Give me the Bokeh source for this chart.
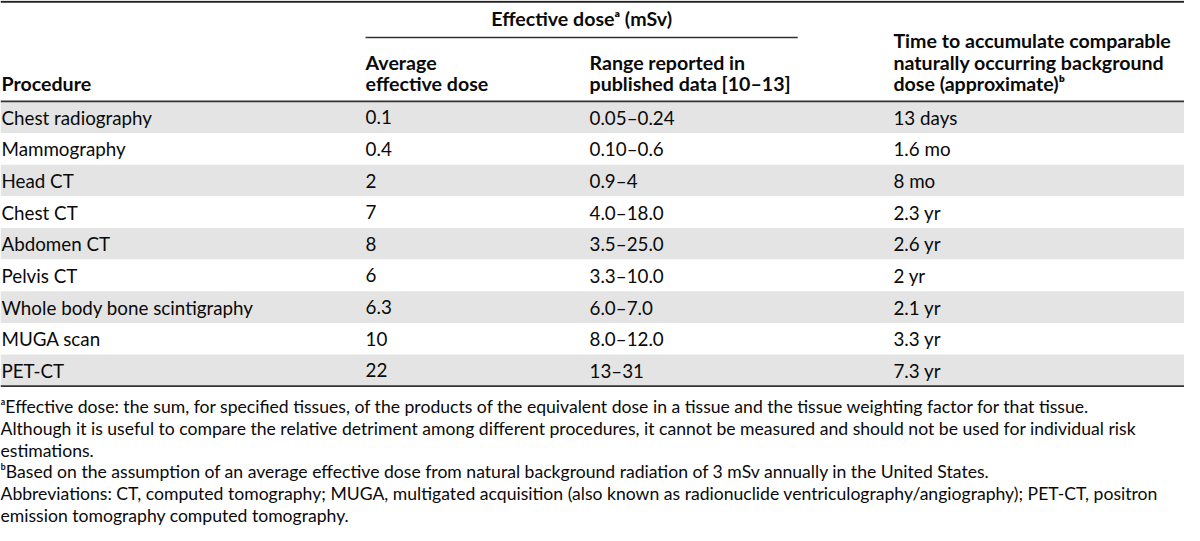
from bokeh.plotting import figure
from bokeh.models import Range1d, ColumnDataSource
from bokeh.core.properties import value
from bokeh.embed import file_html
from bokeh.resources import INLINE

# ---------------- data ----------------
procedures = ["Chest radiography", "Mammography", "Head CT", "Chest CT", "Abdomen CT",
              "Pelvis CT", "Whole body bone scintigraphy", "MUGA scan", "PET-CT"]
avg_dose = ["0.1", "0.4", "2", "7", "8", "6", "6.3", "10", "22"]
dose_range = ["0.05–0.24", "0.10–0.6", "0.9–4", "4.0–18.0", "3.5–25.0",
              "3.3–10.0", "6.0–7.0", "8.0–12.0", "13–31"]
bg_time = ["13 days", "1.6 mo", "8 mo", "2.3 yr", "2.6 yr", "2 yr", "2.1 yr", "3.3 yr", "7.3 yr"]

group_header = "Effective doseᵃ (mSv)"
col_headers = [["Procedure"],
               ["Average", "effective dose"],
               ["Range reported in", "published data [10–13]"],
               ["Time to accumulate comparable", "naturally occurring background",
                "dose (approximate)ᵇ"]]
footnotes = [
    "ᵃEffective dose: the sum, for specified tissues, of the products of the equivalent dose in a tissue and the tissue weighting factor for that tissue.",
    "Although it is useful to compare the relative detriment among different procedures, it cannot be measured and should not be used for individual risk",
    "estimations.",
    "ᵇBased on the assumption of an average effective dose from natural background radiation of 3 mSv annually in the United States.",
    "Abbreviations: CT, computed tomography; MUGA, multigated acquisition (also known as radionuclide ventriculography/angiography); PET-CT, positron",
    "emission tomography computed tomography.",
]

# ---------------- layout (reference pixel space) ----------------
W, H = 1200, 541
col_x = [1, 370, 597, 905]
header_bottom = 104
row_h = 32.6
foot_y0 = 418
foot_dy = 22.6
FONT = "Lato"
FS_BODY = "18.8px"
FS_HEAD = "19.6px"
FS_FOOT = "17.6px"
TXT = "#0a0a0a"

p = figure(width=1184, height=525, x_range=Range1d(0, W), y_range=Range1d(H, 0),
           output_backend="svg", toolbar_location=None, min_border=0)
p.axis.visible = False
p.grid.visible = False
p.outline_line_color = None
p.background_fill_color = "white"

n = len(procedures)
tops = [header_bottom + i * row_h for i in range(n)]
bots = [t + row_h for t in tops]
shade = [("#e4e4e4" if i % 2 == 0 else "white") for i in range(n)]
p.quad(left=0, right=W, top=tops, bottom=bots, fill_color=shade, line_color=None)

# rules
table_bottom = bots[-1]
p.segment(x0=[0], y0=[1.2], x1=[W], y1=[1.2], line_color="#222222", line_width=2)
p.segment(x0=[370], y0=[38], x1=[808], y1=[38], line_color="#333333", line_width=1.5)
p.segment(x0=[0, 0], y0=[header_bottom, table_bottom], x1=[W, W],
          y1=[header_bottom, table_bottom], line_color="#333333", line_width=1.6)

# header texts
p.text(x=[589], y=[19], text=[group_header], text_font=value(FONT), text_font_style="bold",
       text_font_size=FS_HEAD, text_align="center", text_baseline="middle", text_color=TXT)
hx, hy, ht = [], [], []
for ci, lines in enumerate(col_headers):
    nl = len(lines)
    for li, t in enumerate(lines):
        hx.append(col_x[ci])
        hy.append(86 - (nl - 1 - li) * 22.5)
        ht.append(t)
p.text(x=hx, y=hy, text=ht, text_font=value(FONT), text_font_style="bold",
       text_font_size=FS_HEAD, text_align="left", text_baseline="middle", text_color=TXT)

# body
cx, cy, ct = [], [], []
for i in range(n):
    yc = tops[i] + row_h / 2
    for ci, col in enumerate([procedures, avg_dose, dose_range, bg_time]):
        cx.append(col_x[ci])
        cy.append(yc)
        ct.append(col[i])
src = ColumnDataSource(dict(x=cx, y=cy, t=ct))
p.text(x="x", y="y", text="t", source=src, text_font=value(FONT), text_font_size=FS_BODY,
       text_align="left", text_baseline="middle", text_color=TXT)

# footnotes
fy = [foot_y0 + i * foot_dy for i in range(len(footnotes))]
p.text(x=[0] * len(footnotes), y=fy, text=footnotes, text_font=value(FONT),
       text_font_size=FS_FOOT, text_align="left", text_baseline="middle", text_color=TXT)

open("out.html", "w").write(file_html(p, INLINE))
